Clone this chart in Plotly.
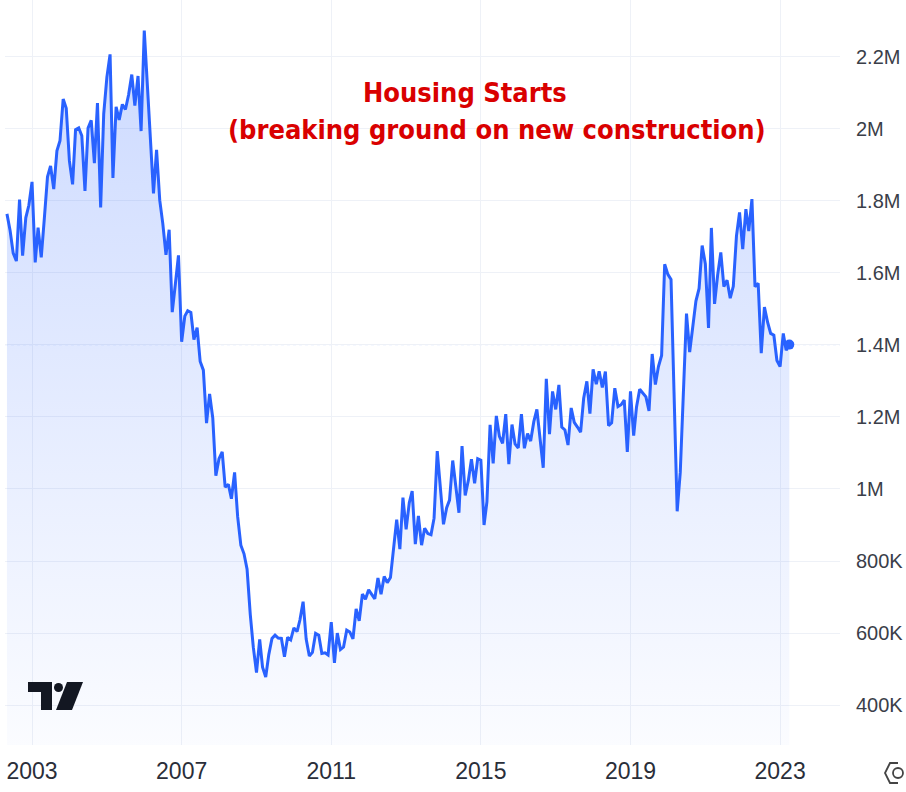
import plotly.graph_objects as go
import pandas as pd

# Monthly US housing starts (thousands of units, SAAR), May 2002 .. Apr 2023
starts_2002 = [1764, 1717, 1655, 1633, 1804, 1648, 1753, 1788]  # May..Dec
starts_2003 = [1853, 1629, 1726, 1643, 1751, 1867, 1897, 1833, 1939, 1967, 2083, 2057]
starts_2004 = [1911, 1846, 1998, 2003, 1981, 1828, 2002, 2024, 1905, 2072, 1782, 2042]
starts_2005 = [2144, 2207, 1864, 2061, 2025, 2068, 2054, 2095, 2151, 2065, 2147, 1994]
starts_2006 = [2273, 2119, 1969, 1821, 1942, 1802, 1737, 1650, 1720, 1491, 1570, 1649]
starts_2007 = [1409, 1480, 1495, 1490, 1415, 1448, 1354, 1330, 1183, 1264, 1197, 1037]
starts_2008 = [1084, 1103, 1005, 1013, 973, 1046, 923, 844, 820, 777, 652, 560]
starts_2009 = [490, 582, 505, 478, 540, 585, 594, 586, 585, 534, 588, 581]
starts_2010 = [614, 604, 636, 687, 583, 536, 546, 599, 594, 543, 545, 539]
starts_2011 = [630, 517, 600, 554, 561, 608, 603, 584, 667, 634, 708, 694]
starts_2012 = [720, 708, 695, 753, 708, 757, 740, 754, 847, 915, 833, 976]
starts_2013 = [888, 962, 994, 847, 925, 844, 891, 876, 873, 919, 1105, 1003]
starts_2014 = [902, 948, 969, 1079, 1000, 934, 1119, 982, 1024, 1083, 1016, 1084]
starts_2015 = [1080, 900, 964, 1178, 1071, 1203, 1146, 1127, 1208, 1069, 1179, 1125]
starts_2016 = [1114, 1208, 1113, 1154, 1133, 1187, 1221, 1140, 1059, 1306, 1152, 1271]
starts_2017 = [1221, 1289, 1172, 1164, 1122, 1225, 1185, 1172, 1158, 1252, 1299, 1209]
starts_2018 = [1332, 1291, 1327, 1282, 1326, 1176, 1184, 1280, 1229, 1234, 1247, 1103]
starts_2019 = [1271, 1148, 1228, 1277, 1265, 1256, 1217, 1375, 1290, 1340, 1371, 1624]
starts_2020 = [1596, 1582, 1271, 938, 1046, 1272, 1487, 1380, 1455, 1522, 1557, 1676]
starts_2021 = [1625, 1447, 1725, 1514, 1594, 1657, 1562, 1580, 1530, 1563, 1703, 1768]
starts_2022 = [1666, 1777, 1716, 1805, 1562, 1571, 1377, 1505, 1463, 1432, 1427, 1357]
starts_2023 = [1340, 1432, 1385, 1401]  # Jan..Apr

first_month = "2002-05-01"

year_ticks = ["2003-01-01", "2007-01-01", "2011-01-01", "2015-01-01", "2019-01-01", "2023-01-01"]
year_labels = ["2003", "2007", "2011", "2015", "2019", "2023"]
y_ticks = [400000, 600000, 800000, 1000000, 1200000, 1400000, 1600000, 1800000, 2000000, 2200000]
y_labels = ["400K", "600K", "800K", "1M", "1.2M", "1.4M", "1.6M", "1.8M", "2M", "2.2M"]

title_line1 = "Housing Starts"
title_line2 = "(breaking ground on new construction)"

values_k = (starts_2002 + starts_2003 + starts_2004 + starts_2005 + starts_2006 + starts_2007
            + starts_2008 + starts_2009 + starts_2010 + starts_2011 + starts_2012 + starts_2013
            + starts_2014 + starts_2015 + starts_2016 + starts_2017 + starts_2018 + starts_2019
            + starts_2020 + starts_2021 + starts_2022 + starts_2023)
values = [v * 1000 for v in values_k]
dates = pd.date_range(first_month, periods=len(values), freq="MS")

W, H = 906, 792
L, R, T, B = 5, 66, 0, 47
PW, PH = W - L - R, H - T - B

def px(x):
    return (x - L) / PW

def py(y):
    return (H - B - y) / PH

BLUE = "#2962FF"

fig = go.Figure()
fig.add_trace(go.Scatter(
    x=dates, y=values, mode="lines",
    line=dict(color=BLUE, width=3),
    fill="tozeroy",
    fillgradient=dict(type="vertical",
                      colorscale=[[0, "rgba(41,98,255,0.02)"], [1, "rgba(41,98,255,0.24)"]],
                      start=290000, stop=2280000),
    hoverinfo="skip", showlegend=False,
))
fig.add_trace(go.Scatter(
    x=[dates[-1]], y=[values[-1]], mode="markers",
    marker=dict(color=BLUE, size=10),
    hoverinfo="skip", showlegend=False,
))

# last-value dotted price line
fig.add_shape(type="line", xref="paper", yref="y", x0=0, x1=1,
              y0=values[-1], y1=values[-1],
              line=dict(color="rgba(41,98,255,0.55)", width=1, dash="dot"), layer="below")

# TradingView-style logo
def poly(points, close=True):
    d = "M " + " L ".join(f"{px(a):.5f},{py(b):.5f}" for a, b in points)
    return d + (" Z" if close else "")

logo_color = "#131722"
fig.add_shape(type="path", xref="paper", yref="paper",
              path=poly([(28, 682), (52, 682), (52, 710), (41, 710), (41, 692), (28, 692)]),
              fillcolor=logo_color, line=dict(width=0))
fig.add_shape(type="circle", xref="paper", yref="paper",
              x0=px(54), x1=px(63), y0=py(692), y1=py(683),
              fillcolor=logo_color, line=dict(width=0))
fig.add_shape(type="path", xref="paper", yref="paper",
              path=poly([(67, 682), (83, 682), (72, 710), (56, 710)]),
              fillcolor=logo_color, line=dict(width=0))

# settings icon at bottom right (partially cut)
fig.add_shape(type="path", xref="paper", yref="paper",
              path=poly([(898, 763), (890, 763), (885, 773), (890, 783), (898, 783)], close=False),
              line=dict(color="#444", width=1.8))
fig.add_shape(type="circle", xref="paper", yref="paper",
              x0=px(893), x1=px(903), y0=py(778), y1=py(768),
              line=dict(color="#444", width=1.8))

title_font = dict(family="DejaVu Sans Condensed, Liberation Sans Narrow, Arial Narrow, sans-serif",
                  size=27, color="#d90000")
fig.add_annotation(xref="paper", yref="paper", x=px(465), y=py(92),
                   text=f"<b>{title_line1}</b>", showarrow=False, font=title_font,
                   xanchor="center", yanchor="middle")
fig.add_annotation(xref="paper", yref="paper", x=px(497), y=py(130),
                   text=f"<b>{title_line2}</b>", showarrow=False, font=title_font,
                   xanchor="center", yanchor="middle")

fig.update_layout(
    width=W, height=H,
    margin=dict(l=L, r=R, t=T, b=B),
    paper_bgcolor="white", plot_bgcolor="white",
    font=dict(family="Liberation Sans, Arial, sans-serif", color="#2a2e39", size=20),
    xaxis=dict(
        type="date",
        range=["2002-04-12", "2024-08-08"],
        tickvals=year_ticks, ticktext=year_labels,
        showgrid=True, gridcolor="#eef1f7", gridwidth=1,
        zeroline=False, showline=False, ticks="",
        automargin=False,
        ticklabelstandoff=10,
        tickfont=dict(size=23, color="#2a2e39"),
    ),
    yaxis=dict(
        side="right",
        range=[289000, 2358000],
        tickvals=y_ticks, ticktext=y_labels,
        showgrid=True, gridcolor="#eef1f7", gridwidth=1,
        zeroline=False, showline=False, ticks="",
        automargin=False,
        ticklabelstandoff=15,
        tickfont=dict(size=20, color="#3a3e49"),
    ),
)

fig.write_html("out.html",
               config={"displayModeBar": False},
               post_script="document.body.style.margin='0';document.body.style.overflow='hidden';")
